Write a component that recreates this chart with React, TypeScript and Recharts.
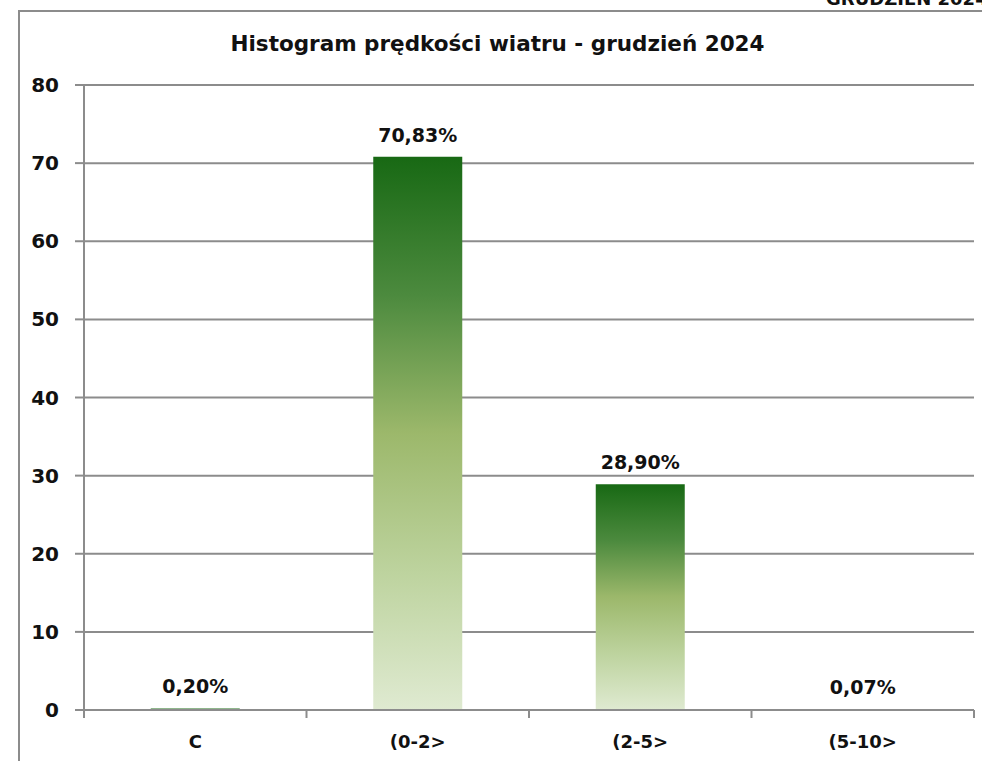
import React from 'react';
import {
  BarChart,
  Bar,
  XAxis,
  YAxis,
  CartesianGrid,
  LabelList,
} from 'recharts';

const categories = ['C', '(0-2>', '(2-5>', '(5-10>'];
const shares = [0.2, 70.83, 28.9, 0.07];
const yTicks = [0, 10, 20, 30, 40, 50, 60, 70, 80];

const data = categories.map((name, i) => ({ name, value: shares[i] }));

const FONT = '"DejaVu Sans", Verdana, sans-serif';
const GRAY = '#8c8c8c';

const fmt = (v: any) => Number(v).toFixed(2).replace('.', ',') + '%';

// Excel-style category ticks: marks on the band boundaries, not the centres
const CategoryTick = (props: any) => {
  const { x, y, payload, index, visibleTicksCount } = props;
  const half = payload && payload.offset ? payload.offset : 111.25;
  const last = index === (visibleTicksCount ?? categories.length) - 1;
  return (
    <g>
      <line x1={x - half} y1={y - 8} x2={x - half} y2={y} stroke={GRAY} strokeWidth={2} />
      {last && <line x1={x + half} y1={y - 8} x2={x + half} y2={y} stroke={GRAY} strokeWidth={2} />}
      <text x={x} y={y + 30} textAnchor="middle" fontFamily={FONT} fontWeight={700} fontSize={18} fill="#111">
        {payload.value}
      </text>
    </g>
  );
};

export default function App() {
  return (
    <div style={{ position: 'absolute', left: 0, top: 0, width: 982, height: 761, overflow: 'hidden', background: '#fff' }}>
      <div
        style={{
          position: 'absolute', left: 826, top: -10, fontFamily: FONT, fontWeight: 700,
          fontSize: 18, lineHeight: 1, color: '#111', whiteSpace: 'nowrap',
        }}
      >
        GRUDZIEŃ 2024
      </div>
      <div
        style={{
          position: 'absolute', left: 18, top: 10, width: 1000, height: 800,
          border: `2px solid ${GRAY}`, boxSizing: 'border-box',
        }}
      />
      <div
        style={{
          position: 'absolute', left: 0, top: 33, width: 995, textAlign: 'center',
          fontFamily: FONT, fontWeight: 700, fontSize: 21.5, lineHeight: 1, color: '#111',
          whiteSpace: 'nowrap',
        }}
      >
        Histogram prędkości wiatru - grudzień 2024
      </div>
      <div style={{ position: 'absolute', left: 0, top: 0 }}>
        <BarChart
          width={982}
          height={761}
          data={data}
          margin={{ top: 85, right: 8, bottom: 11, left: 14 }}
          barCategoryGap="30%"
        >
          <defs>
            <linearGradient id="greenFade" x1="0" y1="0" x2="0" y2="1">
              <stop offset="0%" stopColor="#186914" />
              <stop offset="25%" stopColor="#4c8a3e" />
              <stop offset="50%" stopColor="#9cb86b" />
              <stop offset="75%" stopColor="#bdd39e" />
              <stop offset="100%" stopColor="#dfead1" />
            </linearGradient>
          </defs>
          <CartesianGrid vertical={false} stroke={GRAY} strokeWidth={2} />
          <XAxis
            dataKey="name"
            height={40}
            axisLine={{ stroke: GRAY, strokeWidth: 2 }}
            tickLine={false}
            tickSize={8}
            tickMargin={0}
            tick={<CategoryTick />}
            interval={0}
          />
          <YAxis
            domain={[0, 80]}
            ticks={yTicks}
            width={70}
            axisLine={{ stroke: GRAY, strokeWidth: 2 }}
            tickLine={{ stroke: GRAY, strokeWidth: 2 }}
            tickSize={9}
            tickMargin={16}
            tick={{ fontFamily: FONT, fontWeight: 700, fontSize: 20, fill: '#111' }}
            interval={0}
          />
          <Bar dataKey="value" fill="url(#greenFade)" isAnimationActive={false}>
            <LabelList
              dataKey="value"
              position="top"
              offset={15}
              formatter={fmt}
              style={{ fontFamily: FONT, fontWeight: 700, fontSize: 19, fill: '#111' }}
            />
          </Bar>
        </BarChart>
      </div>
    </div>
  );
}
